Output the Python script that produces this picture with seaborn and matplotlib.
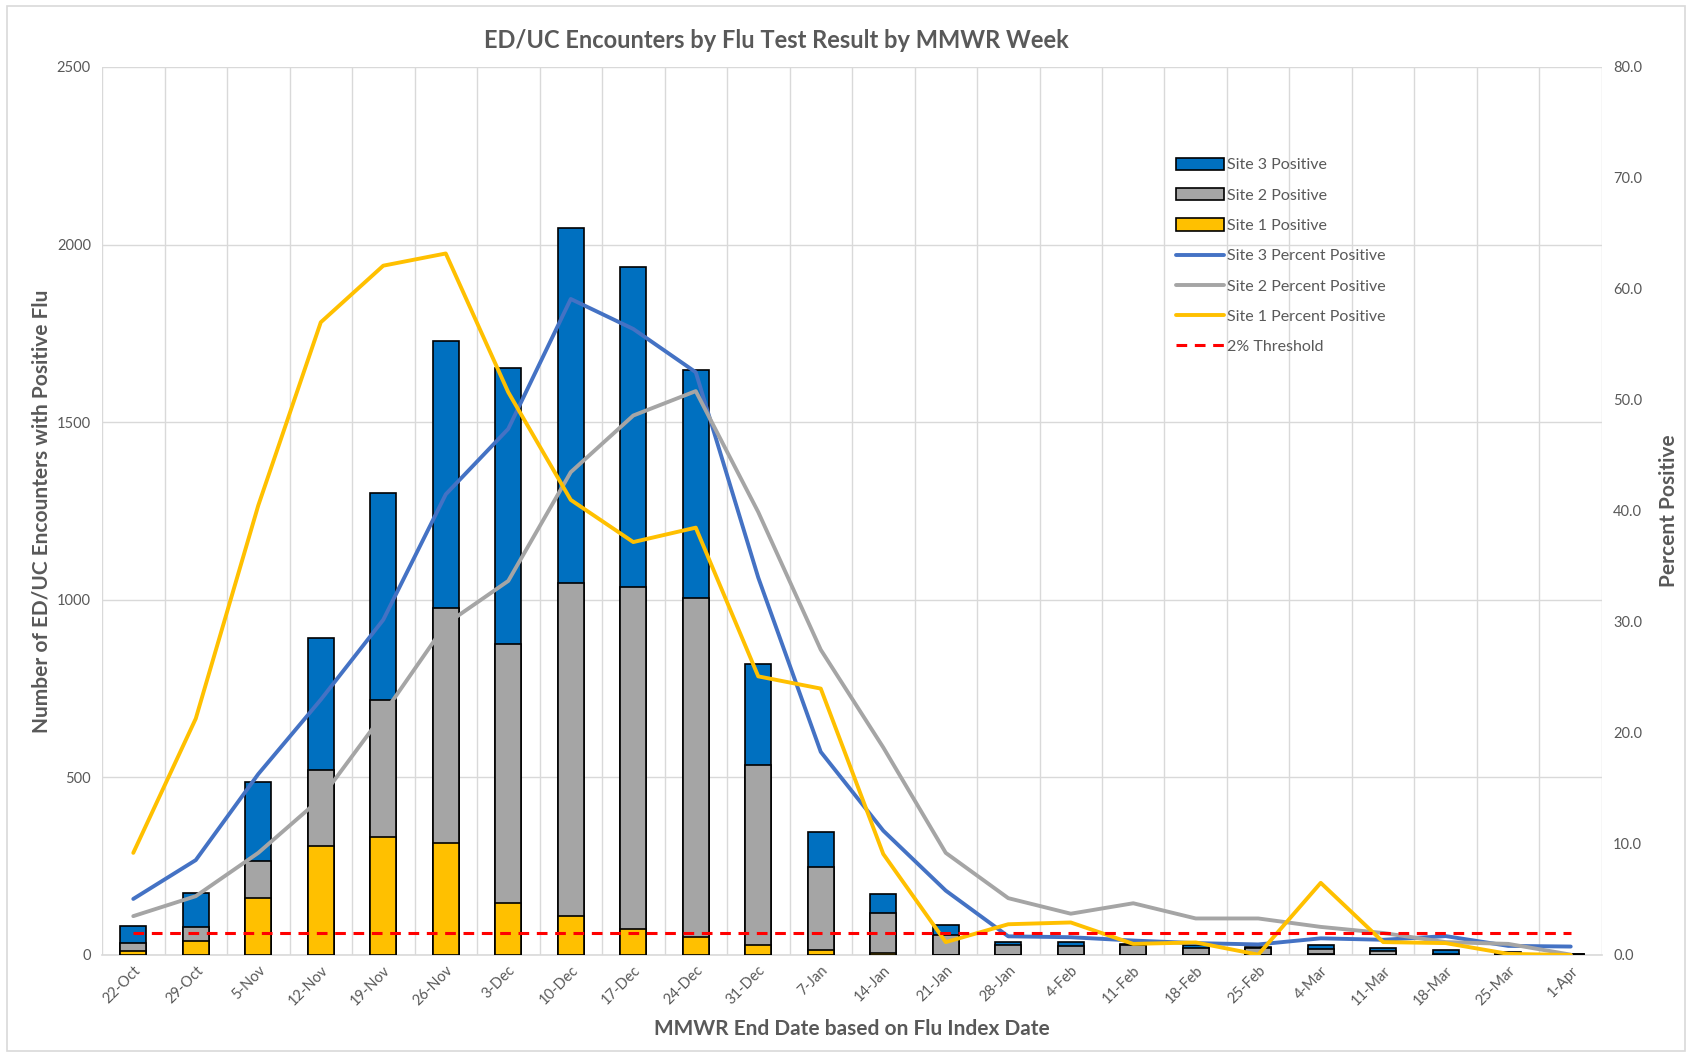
import numpy as np
import pandas as pd
import matplotlib
matplotlib.use("Agg")
import matplotlib.pyplot as plt
import seaborn as sns
from matplotlib.ticker import FixedLocator, FormatStrFormatter
from matplotlib.patches import Rectangle
from matplotlib.lines import Line2D
from matplotlib.patches import Patch

weeks = ["22-Oct", "29-Oct", "5-Nov", "12-Nov", "19-Nov", "26-Nov", "3-Dec", "10-Dec",
         "17-Dec", "24-Dec", "31-Dec", "7-Jan", "14-Jan", "21-Jan", "28-Jan", "4-Feb",
         "11-Feb", "18-Feb", "25-Feb", "4-Mar", "11-Mar", "18-Mar", "25-Mar", "1-Apr"]

site1_pos = [11, 40, 160, 306, 332, 316, 147, 110, 74, 50, 28, 15, 6, 1, 0, 0,
             0, 0, 0, 2, 0, 0, 0, 0]
site2_pos = [24, 40, 104, 216, 385, 662, 728, 938, 962, 956, 507, 233, 113, 56, 27, 25,
             29, 20, 20, 16, 10, 4, 3, 2]
site3_pos = [47, 95, 224, 370, 583, 750, 777, 999, 902, 641, 285, 99, 54, 27, 10, 11,
             3, 7, 3, 9, 10, 11, 6, 0]

site3_pct = [5.05, 8.55, 16.3, 23.0, 30.2, 41.5, 47.4, 59.1, 56.4, 52.5, 34.0, 18.3,
             11.2, 5.8, 1.68, 1.6, 1.3, 1.07, 0.95, 1.5, 1.37, 1.7, 0.82, 0.76]
site2_pct = [3.5, 5.3, 9.2, 14.1, 21.7, 29.8, 33.7, 43.5, 48.6, 50.8, 39.9, 27.5,
             18.7, 9.2, 5.12, 3.72, 4.66, 3.29, 3.29, 2.53, 1.98, 1.16, 1.0, 0.03]
site1_pct = [9.2, 21.3, 40.5, 57.0, 62.1, 63.2, 50.7, 41.0, 37.2, 38.5, 25.1, 24.0,
             9.1, 1.16, 2.77, 2.93, 1.0, 1.13, 0.03, 6.5, 1.16, 1.07, 0.1, 0.0]
threshold = [2.0] * len(weeks)

df = pd.DataFrame({
    "week": weeks,
    "idx": np.arange(len(weeks)),
    "s1": site1_pos, "s2": site2_pos, "s3": site3_pos,
    "p1": site1_pct, "p2": site2_pct, "p3": site3_pct,
    "thr": threshold,
})
df["cum2"] = df["s1"] + df["s2"]
df["cum3"] = df["cum2"] + df["s3"]

sns.set_theme(style="white")
plt.rcParams["font.family"] = ["Lato", "DejaVu Sans"]

C_BLUE = "#0070C0"
C_GRAY = "#A5A5A5"
C_YEL = "#FFC000"
L_BLUE = "#4472C4"
TXT = "#595959"

fig = plt.figure(figsize=(16.92, 10.55), dpi=100)
ax = fig.add_axes([0.0603, 0.0948, 0.8865, 0.8417])

bw = 0.42
sns.barplot(data=df, x="week", y="cum3", color=C_BLUE, saturation=1, width=bw,
            edgecolor="black", linewidth=1.2, ax=ax, zorder=3)
sns.barplot(data=df, x="week", y="cum2", color=C_GRAY, saturation=1, width=bw,
            edgecolor="black", linewidth=1.2, ax=ax, zorder=3)
sns.barplot(data=df, x="week", y="s1", color=C_YEL, saturation=1, width=bw,
            edgecolor="black", linewidth=1.2, ax=ax, zorder=3)

ax.set_ylim(0, 2500)
ax.set_xlim(-0.5, len(weeks) - 0.5)
ax.yaxis.set_major_locator(FixedLocator([0, 500, 1000, 1500, 2000, 2500]))
ax.xaxis.set_minor_locator(FixedLocator(np.arange(-0.5, len(weeks), 1.0)))
ax.grid(axis="y", which="major", color="#D9D9D9", linewidth=1.0, zorder=0)
ax.grid(axis="x", which="minor", color="#D9D9D9", linewidth=1.0, zorder=0)
ax.grid(axis="x", which="major", visible=False)
ax.set_axisbelow(True)
for s in ["top", "left", "right"]:
    ax.spines[s].set_visible(False)
ax.spines["bottom"].set_color("#D9D9D9")
ax.spines["bottom"].set_linewidth(1.2)
ax.tick_params(axis="x", which="major", length=0, labelsize=10.5, labelcolor=TXT, pad=6)
ax.tick_params(axis="x", which="minor", length=6, color="#D9D9D9", width=1.0)
ax.tick_params(axis="y", length=0, labelsize=10.5, labelcolor=TXT, pad=8)
plt.setp(ax.get_xticklabels(), rotation=45, ha="right", rotation_mode="anchor")
ax.set_xlabel("MMWR End Date based on Flu Index Date", fontsize=15, fontweight="bold",
              color=TXT, labelpad=8)
ax.set_ylabel("Number of ED/UC Encounters with Positive Flu", fontsize=15,
              fontweight="bold", color=TXT, labelpad=4)

ax2 = ax.twinx()
sns.lineplot(data=df, x="idx", y="p3", color=L_BLUE, linewidth=2.8, ax=ax2, zorder=4)
sns.lineplot(data=df, x="idx", y="p2", color=C_GRAY, linewidth=2.8, ax=ax2, zorder=4)
sns.lineplot(data=df, x="idx", y="p1", color=C_YEL, linewidth=2.8, ax=ax2, zorder=4)
sns.lineplot(data=df, x="idx", y="thr", color="#FF0000", linewidth=2.2, ax=ax2,
             zorder=5, linestyle=(0, (3.5, 2.5)))
ax2.set_ylim(0, 80)
ax2.set_xlim(-0.5, len(weeks) - 0.5)
ax2.yaxis.set_major_locator(FixedLocator(np.arange(0, 81, 10)))
ax2.yaxis.set_major_formatter(FormatStrFormatter("%.1f"))
ax2.tick_params(axis="y", length=0, labelsize=10.5, labelcolor=TXT, pad=8)
for s in ["top", "left", "right", "bottom"]:
    ax2.spines[s].set_visible(False)
ax2.set_ylabel("Percent Positive", fontsize=15, fontweight="bold", color=TXT,
               labelpad=12)
ax2.set_xlabel("")

fig.text(0.459, 0.962, "ED/UC Encounters by Flu Test Result by MMWR Week",
         ha="center", va="center", fontsize=17, fontweight="bold", color=TXT)

handles = [
    Patch(facecolor=C_BLUE, edgecolor="black", linewidth=1.2),
    Patch(facecolor=C_GRAY, edgecolor="black", linewidth=1.2),
    Patch(facecolor=C_YEL, edgecolor="black", linewidth=1.2),
    Line2D([], [], color=L_BLUE, linewidth=2.8),
    Line2D([], [], color=C_GRAY, linewidth=2.8),
    Line2D([], [], color=C_YEL, linewidth=2.8),
    Line2D([], [], color="#FF0000", linewidth=2.2, linestyle=(0, (3.5, 2.5))),
]
labels = ["Site 3 Positive", "Site 2 Positive", "Site 1 Positive",
          "Site 3 Percent Positive", "Site 2 Percent Positive",
          "Site 1 Percent Positive", "2% Threshold"]
leg = ax2.legend(handles, labels, loc="upper left", bbox_to_anchor=(0.712, 0.905),
                 frameon=False, fontsize=11.5, labelspacing=0.98, handlelength=3.0,
                 handleheight=0.8, handletextpad=0.2, borderaxespad=0)
for t in leg.get_texts():
    t.set_color(TXT)

fig.patches.append(Rectangle((0.004, 0.004), 0.992, 0.99, transform=fig.transFigure,
                             fill=False, edgecolor="#D9D9D9", linewidth=1.2))

fig.savefig("out.png", dpi=100, facecolor="white")
